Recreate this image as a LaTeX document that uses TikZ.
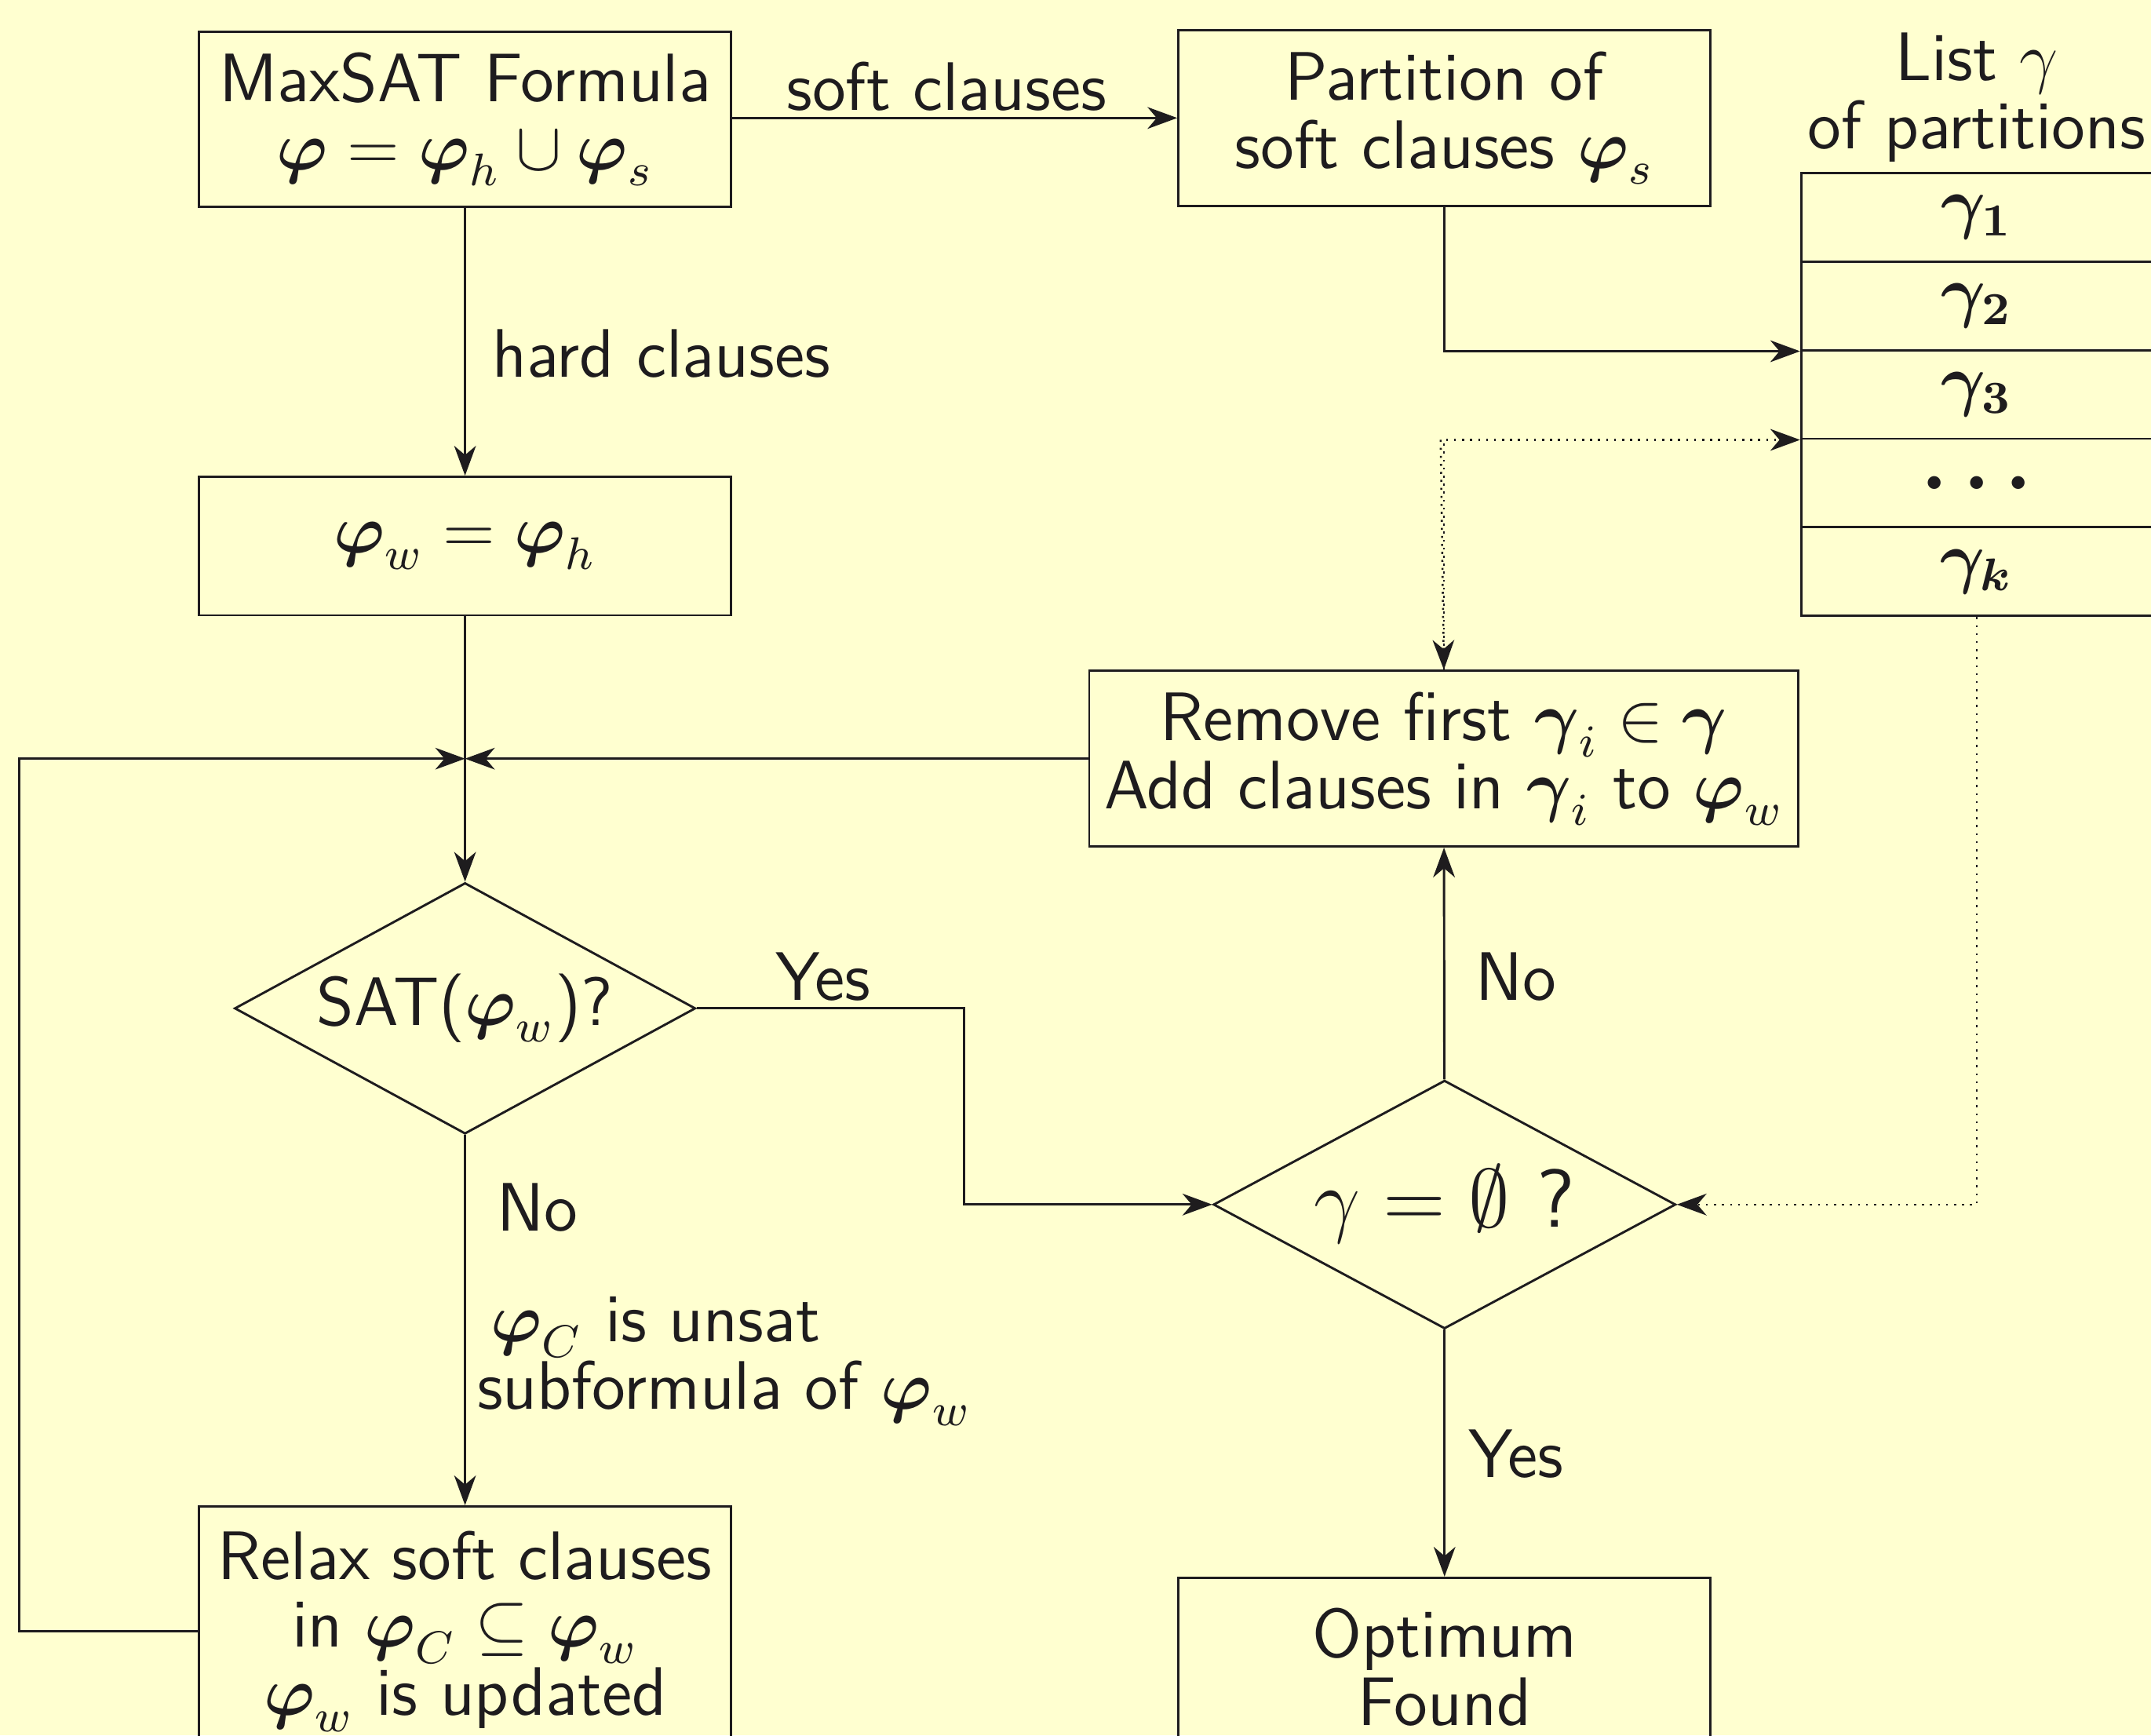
\documentclass[tikz,border=0pt]{standalone}
\usepackage{amsmath,amssymb}
\usetikzlibrary{arrows.meta,shapes.geometric,calc}
\definecolor{bgc}{RGB}{255,255,208}
\definecolor{ink}{RGB}{30,28,30}
\tikzset{
  base/.style={font=\fontsize{12}{11.9}\selectfont\sffamily, text=ink},
  box/.style={base, draw=ink, line width=0.4pt, inner sep=0pt, align=center},
  dia/.style={base, draw=ink, line width=0.4pt, diamond, inner sep=0pt, aspect=1.84},
  cell/.style={base, draw=ink, line width=0.4pt, inner sep=0pt, minimum width=61.44pt, minimum height=15.5pt},
  lbl/.style={base, inner sep=0pt},
  arr/.style={draw=ink, line width=0.4pt, -{Stealth[length=5.2pt,width=3.8pt,inset=1.6pt]}},
  dotarr/.style={draw=ink, line width=0.35pt, dash pattern=on 0.35pt off 1.05pt},
  tip/.style={-{Stealth[length=5.2pt,width=3.8pt,inset=1.6pt]}}
}
\begin{document}
\begin{tikzpicture}[x=0.24pt,y=-0.24pt]
\useasboundingbox (0,0) rectangle (1568,1265);
\fill[bgc] (0,0) rectangle (1568,1265);
\clip (0,0) rectangle (1568,1265);

% boxes
\node[box, minimum width=93.12pt, minimum height=30.72pt] (A) at (339,87)
  {MaxSAT Formula\\$\boldsymbol{\varphi} = \boldsymbol{\varphi}_h \cup \boldsymbol{\varphi}_s$};
\node[box, minimum width=93.12pt, minimum height=30.72pt] (B) at (1053,86)
  {Partition of\\soft clauses $\boldsymbol{\varphi}_s$};
\node[box, minimum width=93.12pt, minimum height=24.24pt] (C) at (339,398)
  {$\boldsymbol{\varphi}_w = \boldsymbol{\varphi}_h$};
\node[box, minimum width=124.08pt, minimum height=30.72pt] (R) at (1052.5,553)
  {Remove first $\boldsymbol{\gamma}_i \in \boldsymbol{\gamma}$\\Add clauses in $\boldsymbol{\gamma}_i$ to $\boldsymbol{\varphi}_w$};
\node[dia, minimum width=80.64pt, minimum height=43.92pt] (D1) at (339,735)
  {SAT($\boldsymbol{\varphi}_w$)?};
\node[dia, minimum width=80.88pt, minimum height=43.44pt, font=\fontsize{14.4}{16}\selectfont\sffamily] (D2) at (1053,878)
  {$\gamma = \emptyset$ ?};
\node[box, minimum width=93.12pt, minimum height=43.68pt] (Rel) at (339,1189)
  {Relax soft clauses\\in $\boldsymbol{\varphi}_C \subseteq \boldsymbol{\varphi}_w$\\$\boldsymbol{\varphi}_w$ is updated};
\node[box, minimum width=93.12pt, minimum height=31.2pt] (Opt) at (1053,1215)
  {Optimum\\Found};

% list of partitions
\node[lbl, anchor=south, align=center] (LT) at (1441,119) {List $\gamma$\\of partitions};
\node[cell] (g1) at (1441,158.3) {$\boldsymbol{\gamma_1}$};
\node[cell] (g2) at (1441,222.9) {$\boldsymbol{\gamma_2}$};
\node[cell] (g3) at (1441,287.5) {$\boldsymbol{\gamma_3}$};
\node[cell, font=\fontsize{15}{16}\selectfont] (g4) at (1441,352.1) {$\boldsymbol{\ldots}$};
\node[cell] (g5) at (1441,416.7) {$\boldsymbol{\gamma_k}$};

% labels
\node[lbl] (lsoft) at (690,63) {soft clauses};
\node[lbl, anchor=west] (lhard) at (358,258) {hard clauses};
\node[lbl] (lyes1) at (600,712) {Yes};
\node[lbl] (lno1) at (1105,712) {No};
\node[lbl] (lyes2) at (1105,1060) {Yes};
\node[lbl] (lno2) at (392,880) {No};
\node[lbl, anchor=west, align=left] (lunsat) at (347,992)
  {\hspace{2.4pt}$\boldsymbol{\varphi}_C$ is unsat\\subformula of $\boldsymbol{\varphi}_w$};

% connectors
\coordinate (J) at (R.west -| C.south);
\draw[arr] (A.east |- B.west) -- (B.west);
\draw[arr] (A) -- (C);
\draw[arr] (C) -- (D1);
\draw[arr] (R.west) -- (J);
\draw[arr] (Rel.west) -- ++(-130,0) |- (J);
\draw[arr] (D1.east) -- ++(195,0) |- (D2.west);
\draw[arr] (D1) -- (Rel);
\draw[arr] (D2) -- (R);
\draw[arr] (D2) -- (Opt);
\draw[arr] (B.south) |- (g2.south west);
\draw[dotarr, tip] (R.north) |- (g3.south west);
\draw[dotarr, tip] ($(g3.south west)+(-262,0)$) -- (R.north);
\draw[dotarr, tip] (g5.south) |- (D2.east);
\end{tikzpicture}
\end{document}
